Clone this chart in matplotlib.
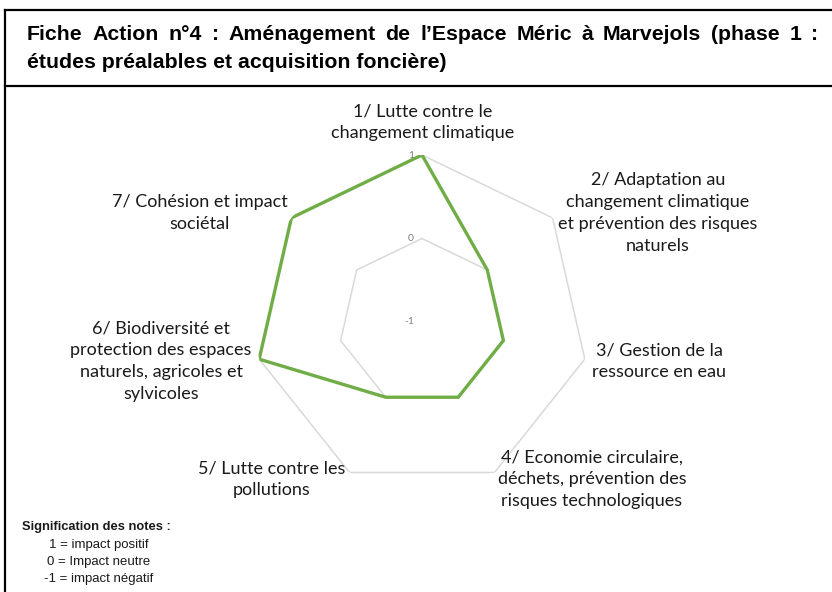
import numpy as np
import matplotlib.pyplot as plt
from matplotlib.lines import Line2D
from matplotlib import transforms

# data
categories = [
    "1/ Lutte contre le\nchangement climatique",
    "2/ Adaptation au\nchangement climatique\net prévention des risques\nnaturels",
    "3/ Gestion de la\nressource en eau",
    "4/ Economie circulaire,\ndéchets, prévention des\nrisques technologiques",
    "5/ Lutte contre les\npollutions",
    "6/ Biodiversité et\nprotection des espaces\nnaturels, agricoles et\nsylvicoles",
    "7/ Cohésion et impact\nsociétal",
]
values = [1, 0, 0, 0, 0, 1, 1]
ring_levels = [-1, 0, 1]
ring_labels = ["-1", "0", "1"]
title_lines = ["Fiche Action n°4 : Aménagement de l’Espace Méric à Marvejols (phase 1 :",
               "études préalables et acquisition foncière)"]
notes_title = "Signification des notes :"
notes = ["1 = impact positif", "0 = Impact neutre", "-1 = impact négatif"]

W, H = 832, 592
fig = plt.figure(figsize=(W / 100, H / 100), dpi=100)


def px(x, y):
    return x / W, 1 - y / H


# radar axes: centre (422, 322), radius 167 px
cx, cy, R = 422, 322, 167
ax = fig.add_axes([(cx - R) / W, (H - cy - R) / H, 2 * R / W, 2 * R / H], polar=True)
ax.set_theta_zero_location("N")
ax.set_theta_direction(-1)
ax.set_ylim(-1, 1)
ax.grid(False)
ax.set_xticks([])
ax.set_yticks([])
ax.spines["polar"].set_visible(False)
ax.patch.set_alpha(0)

n = len(categories)
angles = np.linspace(0, 2 * np.pi, n, endpoint=False)
closed = np.append(angles, angles[0])

for lvl in ring_levels[1:]:
    ax.plot(closed, [lvl] * (n + 1), color="#d9d9d9", lw=1.1, zorder=1)

ax.plot(closed, values + values[:1], color="#70ad47", lw=2.4, zorder=3,
        solid_joinstyle="miter")

lab_tr = transforms.offset_copy(ax.transData, fig=fig, x=-8, y=0, units="dots")
for lvl, txt in zip(ring_levels, ring_labels):
    ax.text(0, lvl, txt, transform=lab_tr, ha="right", va="center",
            fontsize=7.5, color="#808080", family="Lato")

# category labels (centre positions in px)
label_pos = [(423, 122), (658, 213), (659, 361), (592, 479),
             (272, 479), (161, 361), (200, 213)]
for txt, (x, y) in zip(categories, label_pos):
    fig.text(*px(x, y), txt, ha="center", va="center", fontsize=13,
             family="Lato", color="#1a1a1a", linespacing=1.45)

# title box, first line justified between x=27 and x=818
renderer = fig.canvas.get_renderer()
words = title_lines[0].split(" ")
tstyle = dict(fontsize=15.3, fontweight="bold", family="Liberation Sans", va="center")
objs = [fig.text(0, 0, w, **tstyle) for w in words]
widths = [o.get_window_extent(renderer).width for o in objs]
gap = (818 - 27 - sum(widths)) / (len(words) - 1)
x = 27
for o, w in zip(objs, widths):
    o.set_position(px(x, 35))
    x += w + gap
fig.text(*px(27, 62), title_lines[1], ha="left", **tstyle)

for xs, ys in [([5, W], [10, 10]), ([5, W], [86, 86]), ([5, 5], [10, H])]:
    fig.add_artist(Line2D([x / W for x in xs], [1 - y / H for y in ys],
                          transform=fig.transFigure, color="black", lw=1.6))

# notes
fig.text(*px(22, 527), notes_title, ha="left", va="center", fontsize=9.3,
         fontweight="bold", family="Liberation Sans", color="#1a1a1a")
for i, t in enumerate(notes):
    fig.text(*px(99, 545 + 17 * i), t, ha="center", va="center", fontsize=9.5,
             family="Liberation Sans", color="#1a1a1a")

fig.savefig("out.png", dpi=100)
